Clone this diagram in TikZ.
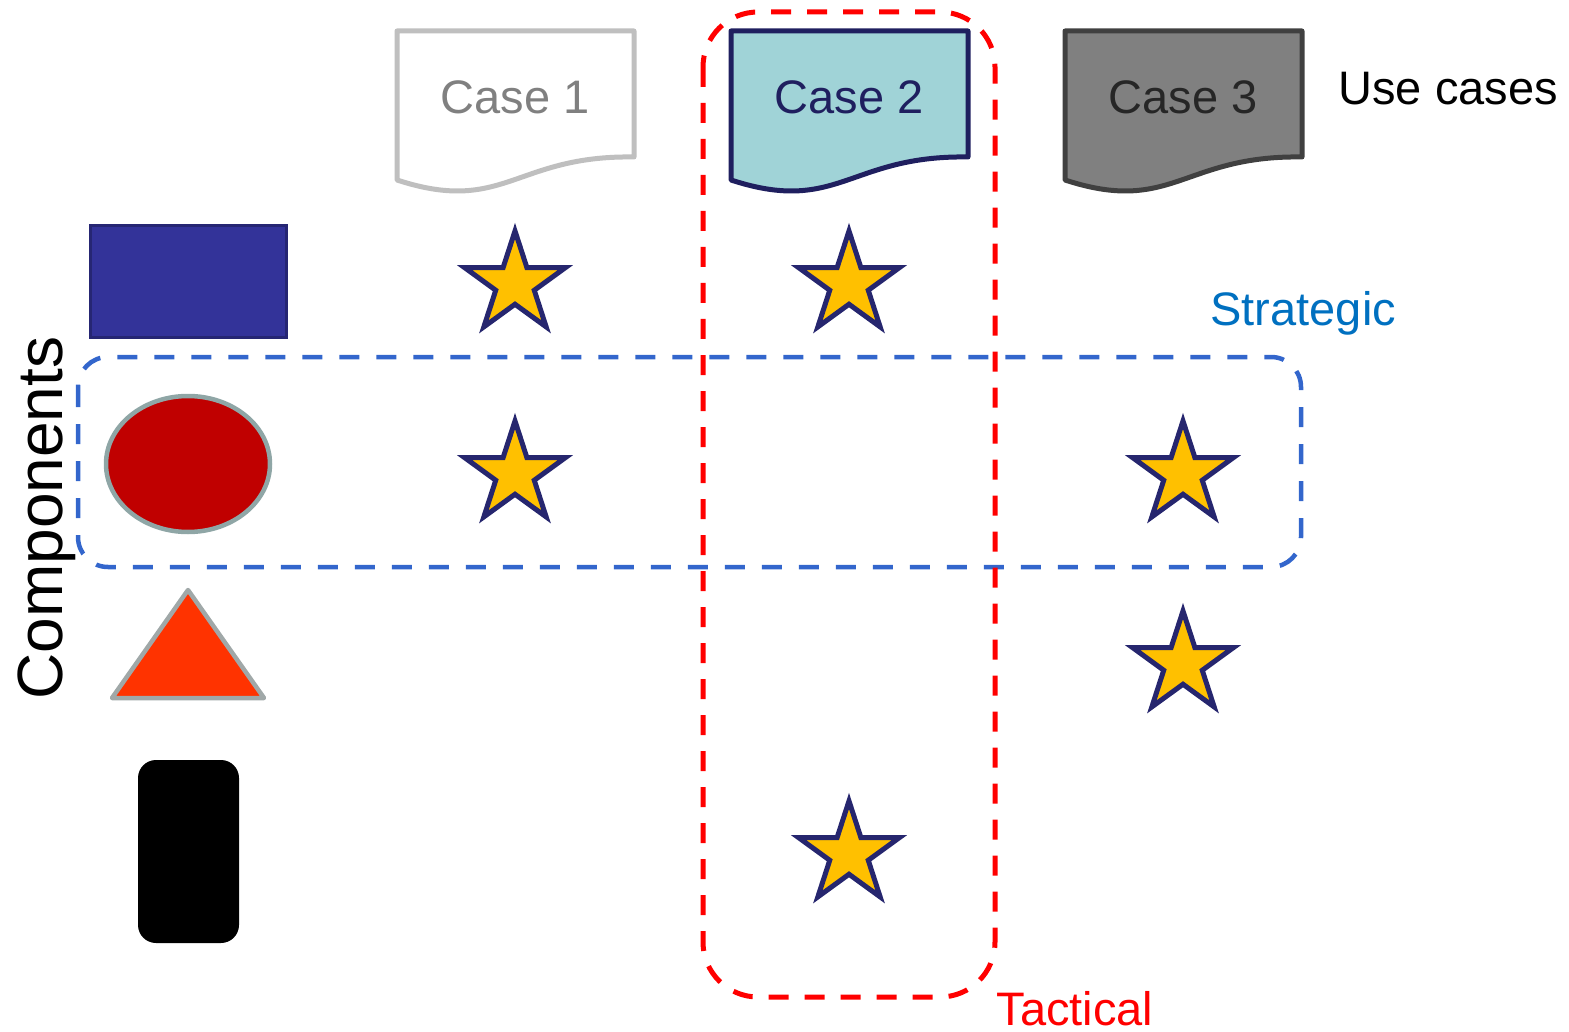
\documentclass[tikz,border=0pt]{standalone}
\usepackage{fontspec}
\setmainfont{Liberation Sans}
\usetikzlibrary{shapes.geometric}
\definecolor{navyb}{RGB}{38,38,110}
\definecolor{starfill}{RGB}{255,192,0}
\definecolor{rectfill}{RGB}{51,51,153}
\definecolor{rectline}{RGB}{38,38,115}
\definecolor{ellfill}{RGB}{192,0,0}
\definecolor{ellline}{RGB}{143,166,166}
\definecolor{trifill}{RGB}{255,51,0}
\definecolor{triline}{RGB}{160,168,168}
\definecolor{caseone}{RGB}{191,191,191}
\definecolor{caseonetext}{RGB}{128,128,128}
\definecolor{casetwo}{RGB}{160,211,215}
\definecolor{casetwoline}{RGB}{31,31,95}
\definecolor{casethree}{RGB}{128,128,128}
\definecolor{casethreeline}{RGB}{64,64,64}
\definecolor{casethreetext}{RGB}{38,38,38}
\definecolor{stratblue}{RGB}{0,112,192}
\definecolor{dashblue}{RGB}{51,102,204}
\begin{document}
\begin{tikzpicture}[x=1pt,y=-1pt,
  bigfont/.style={font=\fontsize{47}{56}\selectfont},
  docbox/.style={line width=5pt,line join=round},
  starmark/.style={star,star points=5,star point ratio=2.618,minimum size=106pt,inner sep=0pt,
     draw=navyb,fill=starfill,line width=5pt,line join=miter},
  groupbox/.style={dash pattern=on 20pt off 16pt,line width=4.5pt,rounded corners=#1},
]
\useasboundingbox (0,0) rectangle (1569,1032);

% documents (use cases)
\draw[docbox,draw=caseone,fill=white] (397,31) -- (634,31) -- (634,157)
   .. controls (515,155) and (504,215) .. (397,180) -- cycle;
\node[bigfont,text=caseonetext] (case1) at (515,97) {Case 1};
\draw[docbox,draw=casethreeline,fill=casethree] (1065,31) -- (1302,31) -- (1302,157)
   .. controls (1183,155) and (1172,215) .. (1065,180) -- cycle;
\node[bigfont,text=casethreetext] (case3) at (1183,97) {Case 3};
\node[bigfont,anchor=west] (usecases) at (1335,89) {Use cases};

% components
\node[draw=rectline,fill=rectfill,line width=3.5pt,minimum width=196pt,minimum height=112pt,inner sep=0pt] (comp1) at (188.5,281.5) {};
\node[ellipse,draw=ellline,fill=ellfill,line width=4.5pt,minimum width=164pt,minimum height=136pt,inner sep=0pt] (comp2) at (188,464) {};
\draw[draw=triline,fill=trifill,line width=4.5pt,line join=round] (188,590) -- (264,698) -- (112,698) -- cycle;
\coordinate (comp3) at (188,662);
\node[fill=black,rounded corners=18pt,minimum width=101pt,minimum height=183pt,inner sep=0pt] (comp4) at (188.5,851.5) {};
\node[font=\fontsize{64}{76}\selectfont,rotate=90,anchor=base] (components) at (62,518) {Components};

% strategic group
\draw[groupbox=30pt,draw=dashblue,dash pattern=on 20pt off 17pt,line width=4.5pt] (78,357) rectangle (1301,567);
\node[bigfont,text=stratblue,anchor=base west] (strategic) at (1207,326) {Strategic};

% tactical group
\draw[groupbox=55pt,draw=red,line width=5pt] (703,12) rectangle (995,997);
\node[bigfont,text=red,anchor=base west] (tactical) at (993,1025) {Tactical};

% case 2 on top
\draw[docbox,draw=casetwoline,fill=casetwo] (731,31) -- (968,31) -- (968,157)
   .. controls (849,155) and (838,215) .. (731,180) -- cycle;
\node[bigfont,text=casetwoline] (case2) at (849,97) {Case 2};

% stars
\node[starmark] (s11) at (515,284) {};
\node[starmark] (s21) at (849,284) {};
\node[starmark] (s12) at (515,474) {};
\node[starmark] (s32) at (1183,474) {};
\node[starmark] (s33) at (1183,664) {};
\node[starmark] (s24) at (849,854) {};
\end{tikzpicture}
\end{document}
